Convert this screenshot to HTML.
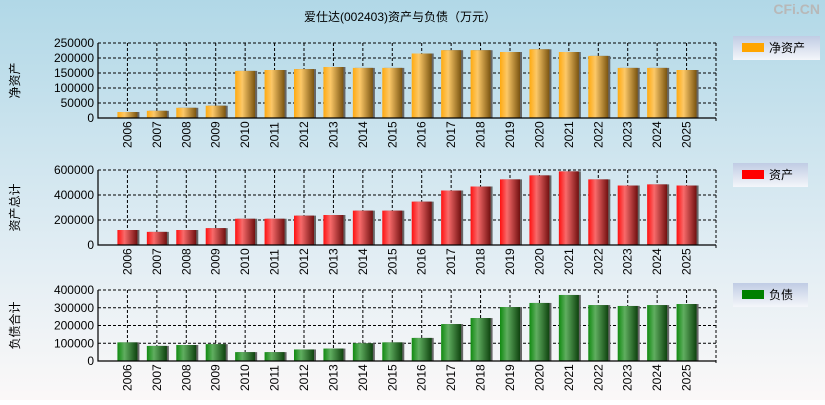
<!DOCTYPE html>
<html><head><meta charset="utf-8"><style>
body{margin:0;width:825px;height:400px;overflow:hidden;font-family:"Liberation Sans","Noto Sans CJK SC",sans-serif}
</style></head><body>
<svg id="c" width="825" height="400" xmlns="http://www.w3.org/2000/svg" font-family="Liberation Sans, Noto Sans CJK SC, sans-serif">
<defs>
<linearGradient id="bg" x1="0" y1="0" x2="0" y2="1"><stop offset="0" stop-color="#b1d8e7"/><stop offset="0.6" stop-color="#dfecf3"/><stop offset="1" stop-color="#fbf8f8"/></linearGradient>
<linearGradient id="lg" x1="0" y1="0" x2="0" y2="1"><stop offset="0" stop-color="#c0cce4"/><stop offset="1" stop-color="#f4f6fa"/></linearGradient>
<linearGradient id="g0" x1="0" x2="1"><stop offset="0" stop-color="#ffaa10"/><stop offset="0.35" stop-color="#fcc868"/><stop offset="1" stop-color="#7a5410"/></linearGradient>
<linearGradient id="g1" x1="0" x2="1"><stop offset="0" stop-color="#ff1010"/><stop offset="0.35" stop-color="#f86a6a"/><stop offset="1" stop-color="#701010"/></linearGradient>
<linearGradient id="g2" x1="0" x2="1"><stop offset="0" stop-color="#108a10"/><stop offset="0.35" stop-color="#60ae60"/><stop offset="1" stop-color="#0e420e"/></linearGradient>
</defs>
<rect width="825" height="400" fill="url(#bg)"/>
<text x="400" y="21" font-size="12" text-anchor="middle">爱仕达(002403)资产与负债（万元）</text>
<text x="820" y="14" font-size="14" text-anchor="end" fill="#b8b8b8" font-weight="bold">CFi.CN</text>
<g id="plots"></g>
</svg>
<script>
const years=["2006","2007","2008","2009","2010","2011","2012","2013","2014","2015","2016","2017","2018","2019","2020","2021","2022","2023","2024","2025"];
const netAssets=[20000,24000,34000,41000,157000,160000,163000,170000,167000,167000,215000,226000,226000,220000,229000,220000,207000,167000,167000,160000];
const totalAssets=[120000,105000,120000,135000,210000,210000,235000,240000,275000,275000,347000,436000,468000,525000,557000,589000,525000,476000,485000,476000];
const liabilities=[105000,85000,90000,95000,50000,50000,65000,70000,100000,105000,130000,208000,242000,304000,327000,372000,315000,310000,315000,321000];
const ticks1=[0,50000,100000,150000,200000,250000];
const ticks2=[0,200000,400000,600000];
const ticks3=[0,100000,200000,300000,400000];
const NS="http://www.w3.org/2000/svg";
const root=document.getElementById('plots');
function mk(t,a,p){const e=document.createElementNS(NS,t);for(const k in a)e.setAttribute(k,a[k]);(p||root).appendChild(e);return e;}
const L=98,R=716,W=(R-L)/21;
const panels=[
 {vals:netAssets,ticks:ticks1,top:43,bot:118,grad:'g0',color:'#ffa500',yl:'净资产',leg:'净资产',ly:36,lw:87,name:'net-assets'},
 {vals:totalAssets,ticks:ticks2,top:170,bot:245,grad:'g1',color:'#ff0000',yl:'资产总计',leg:'资产',ly:163,lw:75,name:'total-assets'},
 {vals:liabilities,ticks:ticks3,top:290,bot:361,grad:'g2',color:'#008000',yl:'负债合计',leg:'负债',ly:283,lw:75,name:'liabilities'}];
panels.forEach(p=>{
 const g=mk('g',{});
 
 
 const max=p.ticks[p.ticks.length-1];
 const y=v=>p.bot-(v/max)*(p.bot-p.top);
 const x=i=>L+(i+1)*W;
 p.ticks.forEach(t=>{
  if(t>0){const gl=mk('line',{x1:L,x2:R,y1:y(t),y2:y(t),stroke:'#000','stroke-dasharray':'3,2','stroke-width':1},g);
   }
  const tl=mk('text',{x:L-4,y:y(t)+4,'font-size':12,'text-anchor':'end'},g);tl.textContent=t;
  
 });
 years.forEach((yr,i)=>{
  const gl=mk('line',{x1:x(i),x2:x(i),y1:p.top,y2:p.bot,stroke:'#000','stroke-dasharray':'3,2'},g);
  
 });
 const gr=mk('line',{x1:R,x2:R,y1:p.top,y2:p.bot+4,stroke:'#000','stroke-dasharray':'3,2'},g);
 
 const gt=mk('line',{x1:L,x2:R,y1:p.top,y2:p.top,stroke:'#000','stroke-dasharray':'3,2'},g);
 
 p.vals.forEach((v,i)=>{
  const sh=mk('rect',{x:x(i)-10+2,y:y(v),width:20,height:p.bot-y(v),fill:'#666'},g);
  
  const b=mk('rect',{x:x(i)-10,y:y(v),width:20,height:p.bot-y(v),fill:'url(#'+p.grad+')'},g);
  
  const tl=mk('text',{x:0,y:0,'font-size':12,transform:`translate(${x(i)+4},${p.bot+30}) rotate(-90)`},g);tl.textContent=years[i];
  
 });
 const ax=mk('path',{d:`M${L},${p.top} V${p.bot} H${R}`,stroke:'#000',fill:'none','stroke-width':1.2},g);
 
 const yt=mk('text',{x:0,y:0,'font-size':12,'text-anchor':'middle',transform:`translate(19,${(p.top+p.bot)/2}) rotate(-90)`},g);yt.textContent=p.yl;
 
 const lg=mk('g',{},g);
 
 mk('rect',{x:733,y:p.ly,width:p.lw,height:24,fill:'url(#lg)'},lg);
 mk('rect',{x:742,y:p.ly+7,width:22,height:9,fill:p.color},lg);
 const lt=mk('text',{x:769,y:p.ly+16,'font-size':12},lg);lt.textContent=p.leg;
});
</script>
</body></html>
